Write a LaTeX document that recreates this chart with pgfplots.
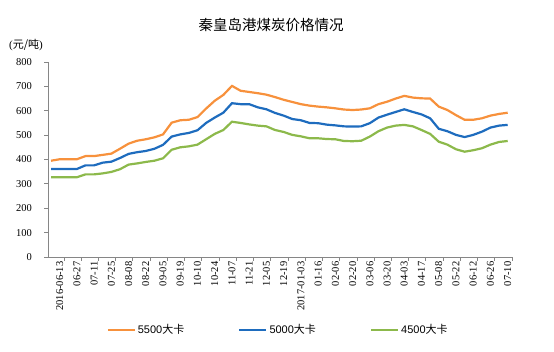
\documentclass[border=0pt]{standalone}
\usepackage{fontspec}
\setmainfont{Liberation Serif}
\newfontfamily\cjk{Noto Sans CJK SC}
\newfontfamily\arial{Liberation Sans}
\usepackage{pgfplots}
\usepackage{pgfplotstable}
\pgfplotsset{compat=1.18}
\definecolor{corange}{RGB}{247,145,60}
\definecolor{cblue}{RGB}{30,108,190}
\definecolor{cgreen}{RGB}{140,185,75}
\definecolor{axgray}{RGB}{134,134,134}
\pgfplotstableread{
x o b g
0 395 361 327
1 401 361 327
2 401 361 327
3 401 361 327
4 414 376 339
5 414 376 339
6 419 387 343
7 424 391 349
8 444 406 360
9 465 423 379
10 477 430 384
11 483 435 390
12 491 444 395
13 503 460 405
14 551 494 440
15 561 503 450
16 563 509 454
17 574 520 461
18 609 550 483
19 641 572 505
20 665 592 521
21 702 631 555
22 682 627 550
23 677 627 544
24 672 614 539
25 666 606 536
26 656 591 521
27 645 580 513
28 636 566 501
29 627 561 495
30 621 550 487
31 617 549 487
32 614 543 484
33 610 540 483
34 605 536 476
35 603 535 475
36 605 536 477
37 610 549 494
38 627 572 516
39 637 584 531
40 650 595 539
41 661 606 542
42 654 595 536
43 651 585 521
44 650 569 505
45 617 526 473
46 603 516 461
47 582 501 442
48 563 492 432
49 563 501 438
50 569 514 446
51 580 531 461
52 587 539 472
53 592 542 476
}\data
\begin{document}
\begin{tikzpicture}
\useasboundingbox (0,0) rectangle (554bp,352bp);
\node[font=\cjk\fontsize{14.5bp}{16bp}\selectfont] at (271bp,327bp) {秦皇岛港煤炭价格情况};
\node[font=\fontsize{11bp}{13bp}\selectfont] at (26bp,307bp) {(\cjk 元/吨\rmfamily)};
\begin{axis}[
  at={(48bp,95bp)}, anchor=south west,
  scale only axis, width=464bp, height=195bp,
  xmin=-0.35, xmax=53.5, ymin=0, ymax=800,
  axis x line*=bottom, axis y line*=left,
  axis line style={draw=axgray, line width=0.8bp},
  tick style={draw=axgray, line width=0.8bp},
  tick align=outside, major tick length=3.5bp,
  ytick={0,100,...,800},
  xtick={1.5,3.5,...,53.5},
  xticklabels={2016-06-13,06-27,07-11,07-25,08-08,08-22,09-05,09-19,10-10,10-24,11-07,11-21,12-05,12-19,2017-01-03,01-16,02-06,02-20,03-06,03-20,04-03,04-17,05-08,05-22,06-12,06-26,07-10},
  xticklabel style={xshift=-4.31bp, rotate=90, anchor=east, font=\fontsize{10.5bp}{12bp}\selectfont, inner sep=1bp, yshift=0bp},
  yticklabel style={font=\fontsize{10.5bp}{12bp}\selectfont, xshift=-9bp},
  /pgf/number format/assume math mode=true,
  legend columns=3,
  legend style={draw=none, fill=none, at={(0.496,-0.374)}, anchor=center,
    font=\arial\fontsize{11bp}{13bp}\selectfont,
    /tikz/every even column/.append style={column sep=52bp}},
  legend image code/.code={\draw[#1] (0bp,0bp) -- (27bp,0bp);},
]
\addplot[corange, line width=2.2bp] table[x=x, y=o] {\data};
\addlegendentry{5500{\cjk 大卡}}
\addplot[cblue, line width=2.2bp] table[x=x, y=b] {\data};
\addlegendentry{5000{\cjk 大卡}}
\addplot[cgreen, line width=2.2bp] table[x=x, y=g] {\data};
\addlegendentry{4500{\cjk 大卡}}
\end{axis}
\end{tikzpicture}
\end{document}
